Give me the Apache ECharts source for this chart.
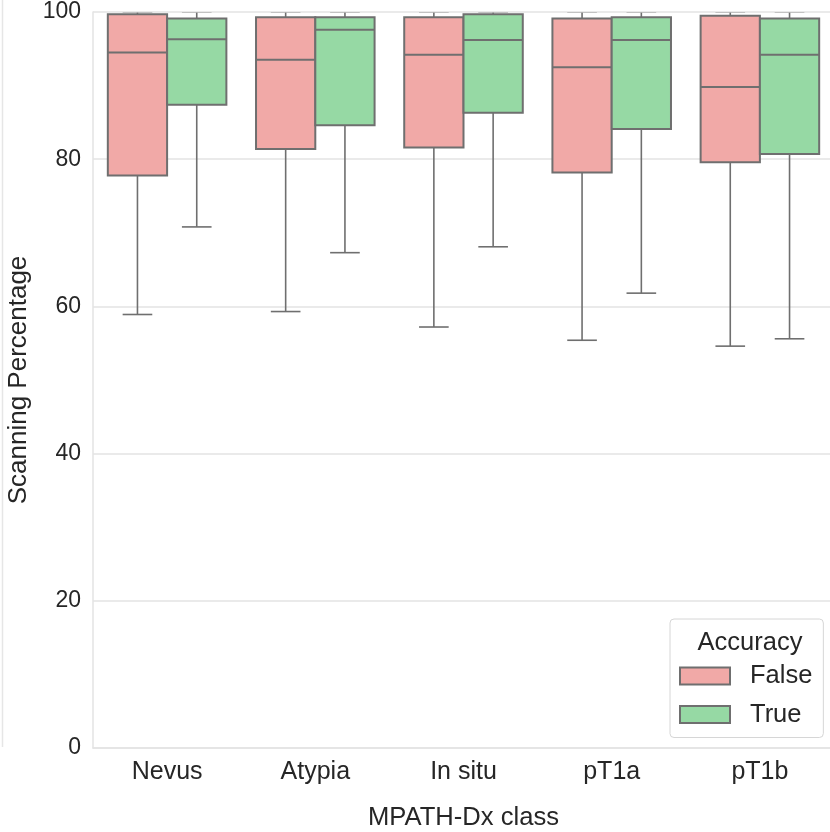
<!DOCTYPE html>
<html>
<head>
<meta charset="utf-8">
<script src="https://cdn.jsdelivr.net/npm/echarts@6/dist/echarts.min.js"></script>
<style>
html, body { margin: 0; padding: 0; background: #fff; }
#container1 { width: 830px; height: 832px; }
</style>
</head>
<body>
<div id="container1"></div>
<script>
var categories = ['Nevus', 'Atypia', 'In situ', 'pT1a', 'pT1b'];
var yTicks = [0, 20, 40, 60, 80, 100];

// Accuracy = False
var falseMin = [58.9, 59.3, 57.2, 55.4, 54.6];
var falseQ1 = [77.8, 81.4, 81.6, 78.2, 79.6];
var falseMedian = [94.5, 93.5, 94.2, 92.5, 89.8];
var falseQ3 = [99.7, 99.3, 99.3, 99.1, 99.5];
var falseMax = [100, 100, 100, 100, 100];

// Accuracy = True
var trueMin = [70.8, 67.3, 68.1, 61.8, 55.6];
var trueQ1 = [87.4, 84.6, 86.3, 84.1, 80.7];
var trueMedian = [96.3, 97.6, 96.2, 96.2, 94.2];
var trueQ3 = [99.1, 99.3, 99.7, 99.3, 99.1];
var trueMax = [100, 100, 100, 100, 100];

var FONT = '"Liberation Sans", Arial, sans-serif';
var TEXT = '#262626';
var EDGE = '#6f6f6f';
var GRID = '#e3e3e3';

function rows(mins, q1, med, q3, maxs) {
	var out = [];
	for (var i = 0; i < categories.length; i++) {
		out.push([i, mins[i], q1[i], med[i], q3[i], maxs[i]]);
	}
	return out;
}

// box drawn through the axes; seriesIndex 0 sits left of the band centre, 1 right
function renderBox(params, api) {
	var cat = api.value(0);
	var band = api.size([1, 0])[0];
	var side = params.seriesIndex === 0 ? -1 : 1;
	var cx = api.coord([cat, 0])[0] + side * band * 0.2;
	var w = band * 0.4;
	var yMin = api.coord([cat, api.value(1)])[1];
	var yQ1 = api.coord([cat, api.value(2)])[1];
	var yMed = api.coord([cat, api.value(3)])[1];
	var yQ3 = api.coord([cat, api.value(4)])[1];
	var yMax = api.coord([cat, api.value(5)])[1];
	var line = { stroke: EDGE, lineWidth: 1.6 };
	return {
		type: 'group',
		children: [
			{ type: 'line', shape: { x1: cx, y1: yQ1, x2: cx, y2: yMin }, style: line },
			{ type: 'line', shape: { x1: cx, y1: yQ3, x2: cx, y2: yMax }, style: line },
			{ type: 'line', shape: { x1: cx - w / 4, y1: yMin, x2: cx + w / 4, y2: yMin }, style: line },
			{ type: 'line', shape: { x1: cx - w / 4, y1: yMax, x2: cx + w / 4, y2: yMax }, style: { stroke: '#b8b8b8', lineWidth: 1.6 } },
			{
				type: 'rect',
				shape: { x: cx - w / 2, y: yQ3, width: w, height: yQ1 - yQ3 },
				style: { fill: api.visual('color'), stroke: EDGE, lineWidth: 2 }
			},
			{ type: 'line', shape: { x1: cx - w / 2, y1: yMed, x2: cx + w / 2, y2: yMed }, style: { stroke: EDGE, lineWidth: 2 } }
		]
	};
}

var dom = document.getElementById('container1');
var myChart = echarts.init(dom);

var option = {
	animation: false,
	backgroundColor: '#fff',
	textStyle: { fontFamily: FONT },
	grid: { left: 93, top: 12, width: 741, height: 736, containLabel: false, outerBoundsMode: 'none' },
	title: {
		text: 'Accuracy',
		left: 745,
		top: 625,
		textAlign: 'center',
		textStyle: { fontFamily: FONT, fontSize: 25.5, fontWeight: 'normal', color: TEXT }
	},
	legend: {
		orient: 'vertical',
		left: 670,
		top: 619,
		padding: [44, 11, 10, 9],
		itemWidth: 50,
		itemHeight: 17,
		itemGap: 12.5,
		icon: 'rect',
		borderColor: '#d6d6d6',
		borderWidth: 1,
		borderRadius: 4,
		backgroundColor: '#fff',
		data: ['False', 'True'],
		textStyle: { fontFamily: FONT, fontSize: 25.5, color: TEXT, padding: [0, 0, 0, 15] }
	},
	xAxis: {
		type: 'category',
		data: categories,
		name: 'MPATH-Dx class',
		nameLocation: 'middle',
		nameGap: 57,
		nameTextStyle: { fontFamily: FONT, fontSize: 25.6, color: TEXT },
		axisLine: { lineStyle: { color: GRID, width: 1.5 } },
		axisTick: { show: false },
		axisLabel: { fontFamily: FONT, fontSize: 25, color: TEXT, margin: 12 },
		splitLine: { show: false }
	},
	yAxis: {
		type: 'value',
		min: 0,
		max: 100,
		interval: 20,
		name: 'Scanning Percentage',
		nameLocation: 'middle',
		nameGap: 58,
		nameTextStyle: { fontFamily: FONT, fontSize: 26, color: TEXT },
		axisLine: { show: true, lineStyle: { color: GRID, width: 1.5 } },
		axisTick: { show: false },
		axisLabel: {
			fontFamily: FONT, fontSize: 23, color: TEXT, margin: 12,
			formatter: function (v) { return yTicks.indexOf(v) >= 0 ? String(v) : ''; }
		},
		splitLine: { lineStyle: { color: GRID, width: 1.5 } }
	},
	graphic: [
		{ type: 'line', shape: { x1: 2.5, y1: 0, x2: 2.5, y2: 747 }, style: { stroke: '#e6e6e6', lineWidth: 1.5 }, silent: true }
	],
	series: [
		{
			name: 'False',
			type: 'custom',
			renderItem: renderBox,
			clip: true,
			encode: { x: 0, y: [1, 2, 3, 4, 5] },
			itemStyle: { color: '#f1a9a7', borderColor: EDGE, borderWidth: 1 },
			data: rows(falseMin, falseQ1, falseMedian, falseQ3, falseMax)
		},
		{
			name: 'True',
			type: 'custom',
			renderItem: renderBox,
			clip: true,
			encode: { x: 0, y: [1, 2, 3, 4, 5] },
			itemStyle: { color: '#96d9a4', borderColor: EDGE, borderWidth: 1 },
			data: rows(trueMin, trueQ1, trueMedian, trueQ3, trueMax)
		}
	]
};

myChart.setOption(option, true);
</script>
</body>
</html>
